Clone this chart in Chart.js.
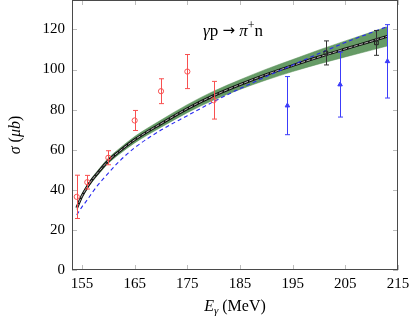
<!DOCTYPE html>
<html>
<head>
<meta charset="utf-8">
<script src="https://cdn.jsdelivr.net/npm/chart.js@4.4.0/dist/chart.umd.min.js"></script>
<style>
  html, body { margin: 0; padding: 0; background: #fff; }
</style>
</head>
<body>
<canvas id="mychart" width="416" height="324"></canvas>
<script>
// tick labels
const xTicks = [155, 165, 175, 185, 195, 205, 215];
const yTicks = [0, 20, 40, 60, 80, 100, 120];

// model curves (photon energy in MeV, cross section in microbarn)
const curveE = [154, 155, 156, 157, 158, 160, 162, 165, 170, 175, 180, 185, 190, 195, 200, 205, 210, 213];
const fitCentral = [31, 37, 41.5, 45.3, 48.5, 54.5, 59, 65, 73, 80.5, 87, 92.5, 97.5, 102, 106.3, 110.3, 114.2, 116.6];
const bandUpper = [31.8, 37.9, 42.5, 46.4, 49.7, 55.8, 60.4, 66.6, 74.8, 82.5, 89.2, 94.9, 100.2, 105, 109.8, 114.3, 118.7, 121.4];
const bandLower = [30.2, 36.1, 40.5, 44.2, 47.3, 53.2, 57.6, 63.4, 71.2, 78.5, 84.8, 90.1, 94.8, 99, 102.8, 106.3, 109.7, 111.8];
const otherModel = [27.5, 31.5, 35, 38.8, 42.3, 48.3, 54, 61, 69.8, 77, 84, 90.5, 96.5, 102.3, 108, 113.5, 118.5, 121.5];

// data sets with errors
const redE = [154, 156, 160, 165, 170, 175, 180];
const redSigma = [36.5, 43.8, 56, 74.6, 89.2, 99, 84.7];
const redErr = [10.8, 3.4, 3.5, 5, 6.2, 8.5, 9.4];

const blueE = [194, 204, 213];
const blueSigma = [82, 92.5, 104.1];
const blueErr = [14.5, 16.2, 18.3];

const blackE = [201.3, 210.9];
const blackSigma = [108.3, 113.3];
const blackErr = [6, 6.2];

const serif = "'Liberation Serif', 'DejaVu Serif', serif";

function pts(xs, ys) {
  return xs.map((x, i) => ({ x: x, y: ys[i] }));
}

let errorSets = [
  { e: redE, s: redSigma, d: redErr, color: 'rgb(248,80,80)' },
  { e: blueE, s: blueSigma, d: blueErr, color: 'rgb(60,60,250)' },
  { e: blackE, s: blackSigma, d: blackErr, color: 'rgb(50,50,50)' },
];

const framePlugin = {
  id: 'frame',
  beforeDatasetsDraw(chart) {
    let ctx = chart.ctx;
    let a = chart.chartArea;
    let xs = chart.scales.x, ys = chart.scales.y;
    ctx.save();
    ctx.strokeStyle = '#bdbdbd';
    ctx.lineWidth = 1;
    ctx.beginPath();
    for (let v of xTicks) {
      let px = Math.round(xs.getPixelForValue(v)) + 0.5;
      ctx.moveTo(px, a.bottom); ctx.lineTo(px, a.bottom - 5);
      ctx.moveTo(px, a.top); ctx.lineTo(px, a.top + 5);
    }
    for (let v of yTicks) {
      let py = Math.round(ys.getPixelForValue(v)) + 0.5;
      ctx.moveTo(a.left, py); ctx.lineTo(a.left + 5, py);
      ctx.moveTo(a.right, py); ctx.lineTo(a.right - 5, py);
    }
    ctx.stroke();
    ctx.restore();
  },
  afterDatasetsDraw(chart) {
    let ctx = chart.ctx;
    let xs = chart.scales.x, ys = chart.scales.y;
    ctx.save();
    ctx.lineWidth = 1;
    for (let set of errorSets) {
      ctx.strokeStyle = set.color;
      ctx.beginPath();
      for (let i = 0; i < set.e.length; i++) {
        let px = Math.round(xs.getPixelForValue(set.e[i])) + 0.5;
        let top = ys.getPixelForValue(set.s[i] + set.d[i]);
        let bot = ys.getPixelForValue(set.s[i] - set.d[i]);
        ctx.moveTo(px, top); ctx.lineTo(px, bot);
        ctx.moveTo(px - 2.5, top); ctx.lineTo(px + 2.5, top);
        ctx.moveTo(px - 2.5, bot); ctx.lineTo(px + 2.5, bot);
      }
      ctx.stroke();
    }
    ctx.restore();
  },
  afterDraw(chart) {
    let ctx = chart.ctx;
    let a = chart.chartArea;
    ctx.save();
    ctx.strokeStyle = '#4a4a4a';
    ctx.lineWidth = 1;
    ctx.strokeRect(a.left + 0.5, a.top + 0.5, a.right - a.left - 1, a.bottom - a.top - 1);

    ctx.fillStyle = '#000';
    ctx.textBaseline = 'alphabetic';
    ctx.textAlign = 'left';

    // x title: E_gamma (MeV)
    drawParts(ctx, [
      { t: 'E', f: 'italic 16px ' + serif, dy: 0 },
      { t: 'γ', f: 'italic 11px ' + serif, dy: 3 },
      { t: ' (MeV)', f: '16px ' + serif, dy: 0 },
    ], (a.left + a.right) / 2, 311);

    // y title: sigma (mu b)
    ctx.save();
    ctx.translate(20, (a.top + a.bottom) / 2);
    ctx.rotate(-Math.PI / 2);
    drawParts(ctx, [
      { t: 'σ', f: 'italic 16px ' + serif, dy: 0 },
      { t: ' (', f: '16px ' + serif, dy: 0 },
      { t: 'μb', f: 'italic 16px ' + serif, dy: 0 },
      { t: ')', f: '16px ' + serif, dy: 0 },
    ], 0, 0);
    ctx.restore();

    // reaction label
    drawParts(ctx, [
      { t: 'γ', f: 'italic 17px ' + serif, dy: 0 },
      { t: 'p ', f: '17px ' + serif, dy: 0 },
      { t: '→', f: '15px DejaVu Sans', dy: -1 },
      { t: ' ', f: '17px ' + serif, dy: 0 },
      { t: 'π', f: 'italic 17px ' + serif, dy: 0 },
      { t: '+', f: '12px ' + serif, dy: -7 },
      { t: 'n', f: '17px ' + serif, dy: 0 },
    ], 233, 36);
    ctx.restore();
  }
};

function drawParts(ctx, parts, cx, y) {
  let w = 0;
  for (let p of parts) { ctx.font = p.f; w += ctx.measureText(p.t).width; }
  let x = cx - w / 2;
  for (let p of parts) {
    ctx.font = p.f;
    ctx.fillText(p.t, x, y + p.dy);
    x += ctx.measureText(p.t).width;
  }
}

let data = {
  datasets: [
    {
      label: 'red data', data: pts(redE, redSigma), showLine: false, order: 0,
      pointStyle: 'circle', pointRadius: 2.6, borderColor: 'rgb(248,80,80)', backgroundColor: 'rgba(0,0,0,0)', borderWidth: 1,
    },
    {
      label: 'blue data', data: pts(blueE, blueSigma), showLine: false, order: 0,
      pointStyle: 'triangle', pointRadius: 2.6, borderColor: 'rgb(60,60,250)', backgroundColor: 'rgb(60,60,250)', borderWidth: 1,
    },
    {
      label: 'black data', data: pts(blackE, blackSigma), showLine: false, order: 0,
      pointStyle: 'rect', pointRadius: 2.6, borderColor: 'rgb(30,30,30)', backgroundColor: 'rgba(0,0,0,0)', borderWidth: 1,
    },
    {
      label: 'other model', data: pts(curveE, otherModel), order: 1,
      borderColor: 'rgb(40,40,240)', borderWidth: 1.1, borderDash: [4, 3], pointRadius: 0, fill: false,
      cubicInterpolationMode: 'monotone',
    },
    {
      label: 'fit inner', data: pts(curveE, fitCentral), order: 2,
      borderColor: 'rgba(255,255,255,0.85)', borderWidth: 0.8, borderDash: [4, 1.5], pointRadius: 0, fill: false,
      cubicInterpolationMode: 'monotone',
    },
    {
      label: 'fit', data: pts(curveE, fitCentral), order: 3,
      borderColor: '#111', borderWidth: 2.8, pointRadius: 0, fill: false,
      cubicInterpolationMode: 'monotone',
    },
    {
      label: 'band lower', data: pts(curveE, bandLower), order: 4,
      borderColor: 'rgb(85,140,85)', borderWidth: 0.5, pointRadius: 0, fill: false,
      cubicInterpolationMode: 'monotone',
    },
    {
      label: 'band upper', data: pts(curveE, bandUpper), order: 4,
      borderColor: 'rgb(85,140,85)', borderWidth: 0.5, pointRadius: 0, fill: '-1',
      backgroundColor: 'rgb(102,155,102)',
      cubicInterpolationMode: 'monotone',
    },
  ]
};

let config = {
  type: 'line',
  data: data,
  options: {
    responsive: false,
    animation: false,
    devicePixelRatio: 1,
    layout: { autoPadding: false, padding: { top: 0, right: 18, left: 0, bottom: 0 } },
    plugins: { legend: { display: false }, tooltip: { enabled: false } },
    scales: {
      x: {
        type: 'linear', min: 153.1, max: 215,
        grid: { display: false, drawTicks: false }, border: { display: false },
        afterBuildTicks: s => { s.ticks = xTicks.map(v => ({ value: v })); },
        afterFit: s => { s.height = 54; s.paddingLeft = 0; s.paddingRight = 0; },
        ticks: { font: { family: serif, size: 15 }, color: '#000', padding: 5, maxRotation: 0, autoSkip: false },
      },
      y: {
        type: 'linear', min: 0, max: 134.7,
        grid: { display: false, drawTicks: false }, border: { display: false },
        afterBuildTicks: s => { s.ticks = yTicks.map(v => ({ value: v })); },
        afterFit: s => { s.width = 72; s.paddingTop = 0; s.paddingBottom = 0; },
        ticks: { font: { family: serif, size: 15 }, color: '#000', padding: 7, autoSkip: false },
      }
    }
  },
  plugins: [framePlugin],
};

var myChart = new Chart(document.getElementById('mychart'), config);
</script>
</body>
</html>
